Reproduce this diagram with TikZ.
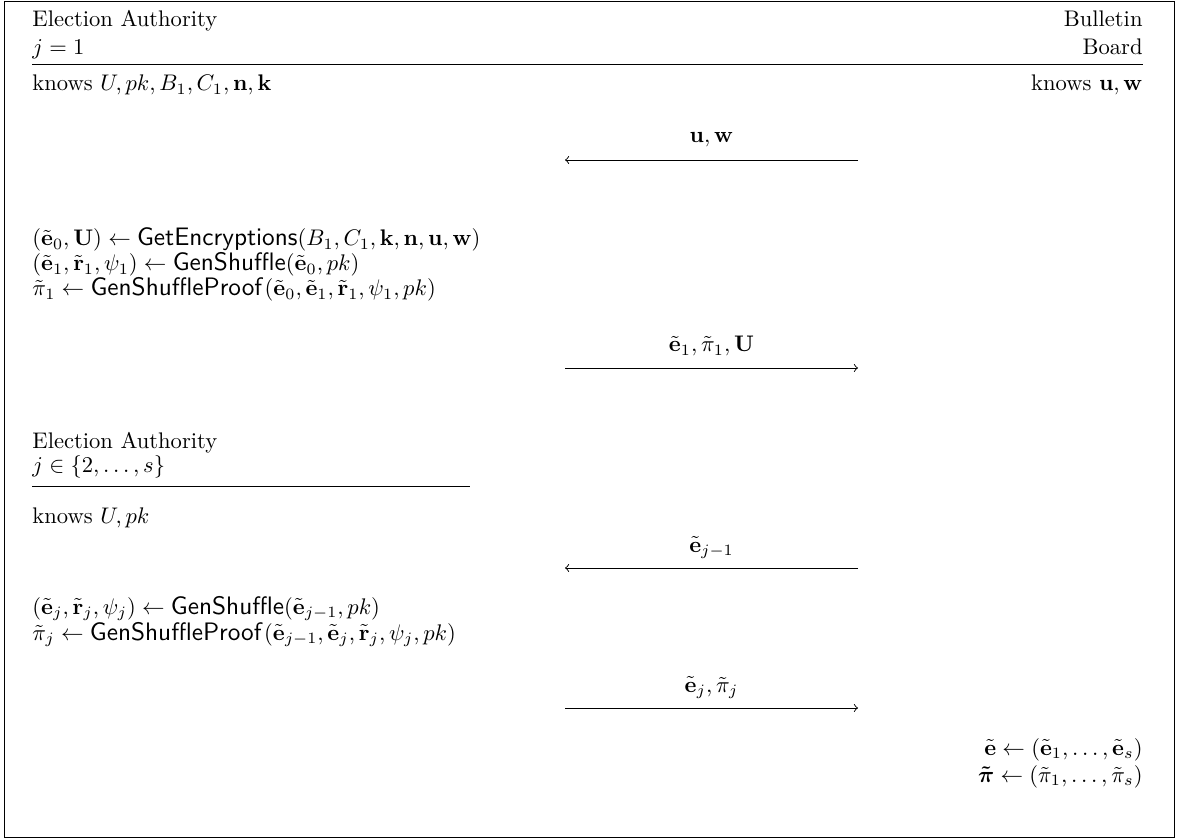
\documentclass[tikz,border=0pt]{standalone}
\usepackage{amsmath,amssymb,bm,graphicx}
\newcommand{\algo}[1]{\text{\scalebox{1.12}{\sffamily #1}}}
\begin{document}
\begin{tikzpicture}[x=0.4431pt,y=-0.4431pt,
  txt/.style={inner sep=0pt,anchor=base west},
  txtr/.style={inner sep=0pt,anchor=base east},
  lbl/.style={inner sep=0pt,anchor=base},
  msg/.style={->},
  rulebar/.style={line width=0.4pt}]
\useasboundingbox (0,0) rectangle (1177,839);
\draw (4.5,1.5) rectangle (1174.5,837.5);
% header
\node[txt] (ea1) at (32,27) {Election Authority};
\node[txt] (j1) at (32,55) {$j=1$};
\node[txtr] (bb1) at (1143,27) {Bulletin};
\node[txtr] (bb2) at (1143,55) {Board};
\coordinate (h1l) at (32,64.5);
\coordinate (h1r) at (1143,64.5);
\draw[rulebar] (h1l) -- (h1r);
\node[txt] (k1) at (32,91) {knows $U, pk, B_1, C_1, \mathbf{n}, \mathbf{k}$};
\node[txtr] (k2) at (1143,91) {knows $\mathbf{u}, \mathbf{w}$};
% message 1
\coordinate (m1a) at (858,160);
\coordinate (m1b) at (565,160);
\draw[msg] (m1a) -- (m1b);
\node[lbl] (l1) at (711.5,143) {$\mathbf{u}, \mathbf{w}$};
% computations 1
\node[txt] (c1) at (32,246) {$(\tilde{\mathbf{e}}_0, \mathbf{U}) \leftarrow \algo{GetEncryptions}(B_1, C_1, \mathbf{k}, \mathbf{n}, \mathbf{u}, \mathbf{w})$};
\node[txt] (c2) at (32,271) {$(\tilde{\mathbf{e}}_1, \tilde{\mathbf{r}}_1, \psi_1) \leftarrow \algo{GenShuffle}(\tilde{\mathbf{e}}_0, pk)$};
\node[txt] (c3) at (32,296) {$\tilde{\pi}_1 \leftarrow \algo{GenShuffleProof}\mkern2mu(\tilde{\mathbf{e}}_0, \tilde{\mathbf{e}}_1, \tilde{\mathbf{r}}_1, \psi_1, pk)$};
% message 2
\coordinate (m2a) at (565,368);
\coordinate (m2b) at (858,368);
\draw[msg] (m2a) -- (m2b);
\node[lbl] (l2) at (711.5,352) {$\tilde{\mathbf{e}}_1, \tilde{\pi}_1, \mathbf{U}$};
% second authority
\node[txt] (ea2) at (32,448) {Election Authority};
\node[txt] (j2) at (32,472) {$j \in \{2, \ldots, s\}$};
\coordinate (h2l) at (32,486.5);
\coordinate (h2r) at (470,486.5);
\draw[rulebar] (h2l) -- (h2r);
\node[txt] (k3) at (32,523) {knows $U, pk$};
% message 3
\coordinate (m3a) at (858,568);
\coordinate (m3b) at (565,568);
\draw[msg] (m3a) -- (m3b);
\node[lbl] (l3) at (711.5,552) {$\tilde{\mathbf{e}}_{j-1}$};
% computations 2
\node[txt] (c4) at (32,614) {$(\tilde{\mathbf{e}}_j, \tilde{\mathbf{r}}_j, \psi_j) \leftarrow \algo{GenShuffle}(\tilde{\mathbf{e}}_{j-1}, pk)$};
\node[txt] (c5) at (32,640) {$\tilde{\pi}_j \leftarrow \algo{GenShuffleProof}\mkern2mu(\tilde{\mathbf{e}}_{j-1}, \tilde{\mathbf{e}}_j, \tilde{\mathbf{r}}_j, \psi_j, pk)$};
% message 4
\coordinate (m4a) at (565,708);
\coordinate (m4b) at (858,708);
\draw[msg] (m4a) -- (m4b);
\node[lbl] (l4) at (711.5,692) {$\tilde{\mathbf{e}}_j, \tilde{\pi}_j$};
% final
\node[txtr] (f1) at (1143,755) {$\tilde{\mathbf{e}} \leftarrow (\tilde{\mathbf{e}}_1, \ldots, \tilde{\mathbf{e}}_s)$};
\node[txtr] (f2) at (1143,782) {$\bm{\tilde{\pi}} \leftarrow (\tilde{\pi}_1, \ldots, \tilde{\pi}_s)$};
\end{tikzpicture}
\end{document}
